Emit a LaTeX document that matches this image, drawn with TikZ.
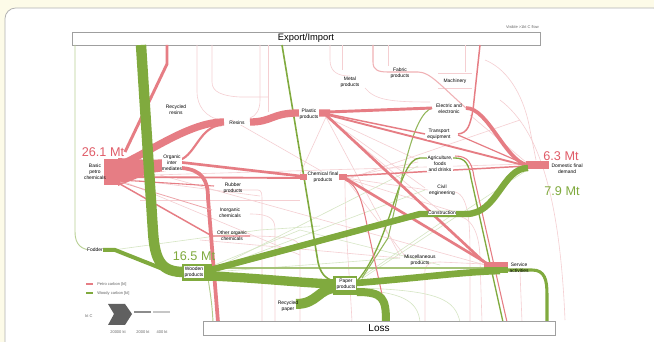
\documentclass[tikz,border=0pt]{standalone}
\usepackage{fontspec}
\setmainfont{Liberation Sans}
\definecolor{pk}{HTML}{E67D84}
\definecolor{gr}{HTML}{80AA3E}
\definecolor{fpk}{HTML}{F5CFD2}
\definecolor{fgr}{HTML}{D6E6C4}
\definecolor{bgy}{HTML}{FDFBE8}
\definecolor{pktxt}{HTML}{E05C68}
\definecolor{grtxt}{HTML}{80AA3E}
\begin{document}
\begin{tikzpicture}[x=0.75pt,y=-0.75pt,
 lbl/.style={font=\fontsize{3.7}{4.5}\selectfont, align=center, inner sep=0.3pt},
 lblw/.style={lbl, fill=white},
 pf/.style={draw=pk, line cap=butt},
 gf/.style={draw=gr, line cap=butt},
 fp/.style={draw=fpk, line width=0.45pt},
 fg/.style={draw=fgr, line width=0.45pt},
 bigbox/.style={draw=gray!75, fill=white, line width=0.7pt, inner sep=0pt},
 mt/.style={font=\fontsize{9.5}{10}\selectfont, inner sep=0pt},
 leg/.style={font=\fontsize{3}{3.5}\selectfont, text=gray!80!black, inner sep=0pt},
]
\useasboundingbox (0,0) rectangle (654,342);
\fill[bgy] (0,0) rectangle (654,342);
\draw[gray!60, fill=white, line width=0.6pt, rounded corners=8pt] (5,8) rectangle (664,372);

% ---------- boxes ----------
\fill[gray!40] (73,33) rectangle (541,46);
\node[bigbox, minimum width=351pt, minimum height=9.75pt, anchor=north west] (exp) at (72,32) {};
\node[font=\fontsize{7}{8}\selectfont, inner sep=0pt] (exptxt) at (306,38.5) {Export/Import};
\node[leg, anchor=east] (vis) at (539,27) {Visible >1kt C flow};

% ---------- ports ----------
\coordinate (eG) at (141,45);
\coordinate (eP) at (167,45);
\coordinate (eG2) at (282,45);
\coordinate (eP2) at (480,45);
\coordinate (eL) at (75,45);

% ---------- faint pink lines ----------
\draw[fp] (197,45) -- (197,92) .. controls (197,105) and (205,118) .. (222,120);
\draw[fp] (212,45) -- (212,82) .. controls (212,92) and (222,96) .. (240,97) -- (268,97);
\draw[fp] (260,45) -- (260,100) .. controls (260,110) and (256,116) .. (250,118);
\draw[fp] (268,45) -- (268,112);
\draw[fp] (330,45) -- (330,60) .. controls (330,72) and (338,76) .. (350,76);
\draw[fp] (342,45) -- (342,70);
\draw[fp] (388,45) -- (388,66);
\draw[fp] (465,45) -- (465,72);
\draw[fp] (438,73) -- (472,73);
\draw[fp] (438,88) -- (472,88);
\draw[fp] (485,60) .. controls (510,70) and (525,100) .. (530,130) -- (536,160);
\draw[fp] (500,100) .. controls (540,130) and (560,200) .. (565,320);
\draw[fp] (365,88) .. controls (375,100) and (390,102) .. (430,102);
\draw[fp] (326,117) -- (418,160);
\draw[fp] (326,117) -- (425,188);
\draw[fp] (326,117) -- (400,256);
\draw[fp] (326,117) -- (440,211);
\draw[fp] (326,117) -- (300,174);
\draw[fp] (345,178) -- (418,162);
\draw[fp] (345,178) -- (428,190);
\draw[fp] (345,178) -- (405,256);
\draw[fp] (345,178) -- (455,212);
\draw[fp] (345,180) .. controls (345,230) and (350,280) .. (352,322);
\draw[fp] (120,180) -- (300,255);
\draw[fp] (120,178) -- (260,196);
\draw[fp] (120,176) -- (527,164);
\draw[fp] (140,200) -- (300,200);
\draw[fp] (230,190) -- (258,190) .. controls (262,190) and (262,195) .. (262,200) -- (262,322);
\draw[fp] (250,214) .. controls (272,214) and (275,220) .. (275,230) -- (275,322);
\draw[fp] (245,236) .. controls (295,236) and (300,240) .. (300,250) -- (300,322);
\draw[fp] (440,262) .. controls (422,262) and (425,270) .. (425,280) -- (425,322);
\draw[fp] (455,192) .. controls (470,195) and (470,230) .. (470,260) -- (470,322);
\draw[fp] (455,216) .. controls (475,216) and (480,240) .. (480,260) -- (482,322);
\draw[fp] (520,272) -- (522,322);
\draw[fp] (440,262) -- (484,264);
\draw[fp] (232,120) -- (330,176);
\draw[fp] (160,175) -- (485,265);
\draw[fp] (200,240) -- (400,258);
\draw[fp] (345,180) -- (520,120);
\draw[fp] (470,115) -- (527,163);

% ---------- faint green lines ----------
\draw[fg] (113,250) -- (260,230) -- (320,226);
\draw[fg] (212,270) -- (425,190);
\draw[fg] (212,272) -- (400,258);
\draw[fg] (212,270) -- (418,166);
\draw[fg] (357,282) -- (527,170);
\draw[fg] (357,280) -- (455,213);
\draw[fg] (357,290) .. controls (400,292) and (418,300) .. (420,322);
\draw[fg] (357,288) .. controls (440,290) and (455,300) .. (460,322);
\draw[fg] (300,230) -- (440,265);
\draw[fg] (212,266) -- (300,230);

% ---------- thin green ----------
\draw[draw=gr!55, line width=0.7pt] (eL) -- (75,232) .. controls (75,245) and (82,250) .. (92,250);
\draw[gf, draw=gr!70, line width=0.8pt] (212,268) -- (496,268);
\draw[gf, draw=gr!60, line width=0.7pt] (208,278) .. controls (210,292) and (212,302) .. (213,322);
\draw[gf, line width=1.2pt] (eG2) -- (318,262) .. controls (320,272) and (325,279) .. (334,281);
\draw[gf, line width=1pt] (358,280) .. controls (392,240) and (398,158) .. (420,158) -- (455,158) .. controls (466,158) and (469,165) .. (471,178) -- (503,322);
\draw[gf, draw=gr!85, line width=0.8pt] (432,108) .. controls (412,115) and (402,180) .. (388,238) -- (362,278);

% ---------- pink flows ----------
\draw[pf, line width=2.2pt] (eP) -- (167,64) -- (125,152);
\fill[pk] (118,158) -- (150,160) -- (166,159) -- (166,171) -- (150,173) -- (118,186) -- cycle;
\draw[pf, line width=5.5pt] (118,166) .. controls (150,152) and (190,122) .. (224,122);
\draw[pf, line width=5.5pt] (250,122) .. controls (272,122) and (272,113) .. (298,113) -- (330,113);
\draw[pf, line width=1.6pt] (180,160) .. controls (196,154) and (200,126) .. (222,125);
\draw[pf, line width=2pt] (178,162) -- (300,176);
\draw[pf, line width=1.4pt] (120,177) -- (300,178);
\draw[pf, line width=2.8pt] (182,168) .. controls (202,170) and (208,180) .. (208,198) -- (218,322);
\draw[pf, line width=0.8pt] (120,180) -- (214,186);
\draw[pf, draw=pk!70, line width=0.6pt] (120,182) -- (212,210);
\draw[pf, line width=1.1pt] (120,184) -- (212,236) -- (250,236);
\draw[pf, line width=1.1pt] (345,176) -- (527,166);
\draw[pf, line width=2pt] (345,178) -- (488,264);
\draw[pf, line width=2.2pt] (328,112) -- (432,108);
\draw[pf, line width=2.8pt] (466,108) .. controls (488,108) and (505,160) .. (527,165);
\draw[pf, line width=1.1pt] (328,114) -- (425,134);
\draw[pf, line width=1.4pt] (328,115) -- (527,166);
\draw[pf, line width=2pt] (326,115) -- (484,262);
\draw[pf, line width=0.9pt] (458,135) -- (527,165);
\draw[pf, line width=1.1pt] (eP2) -- (473,110) .. controls (470,125) and (468,133) .. (458,134);
\draw[pf, draw=pk!60, line width=0.8pt] (373,45) -- (373,62) .. controls (373,70) and (378,72) .. (388,72) -- (418,72) .. controls (430,72) and (440,85) .. (466,108);
\draw[pf, line width=0.8pt] (455,156) .. controls (468,156) and (472,163) .. (474,177) -- (507,322);
\draw[pf, line width=0.8pt] (345,180) .. controls (358,185) and (362,200) .. (368,230) -- (388,322);

% ---------- blocks ----------
\fill[pk] (104,159) rectangle (120,185);
\fill[pk] (300,174) rectangle (347,180);
\fill[pk] (484,262) rectangle (508,268);
\fill[pk] (526,161) rectangle (549,169);

% ---------- thick green flows ----------
\draw[gf, line width=7.8pt] (eG) -- (153,232) .. controls (155,262) and (162,272) .. (184,272);
\draw[gf, line width=3pt] (103,250) -- (115,250) -- (178,275);
\draw[gf, line width=4.8pt] (210,270) -- (420,214) -- (466,214) .. controls (498,214) and (502,168) .. (528,168);
\draw[gf, line width=7pt] (210,276) .. controls (260,278) and (300,283) .. (336,284);
\draw[gf, line width=7.5pt] (296,304) .. controls (318,304) and (318,288) .. (337,288);
\draw[gf, line width=5pt] (356,283) .. controls (420,278) and (460,272) .. (500,271);
\draw[gf, line width=6pt] (357,292) .. controls (383,292) and (386,298) .. (386,322);
\draw[gf, line width=2.3pt] (506,270) -- (532,270) .. controls (545,270) and (547,280) .. (547,295) -- (547,322);
\fill[gr] (182,264) rectangle (212,281);
\fill[gr] (333,276) rectangle (357,295);
\fill[gr] (484,267) rectangle (508,273);

% ---------- loss box ----------
\fill[gray!40] (204,322) rectangle (556,336);
\node[bigbox, minimum width=264pt, minimum height=10.5pt, anchor=north west] (loss) at (203,321) {};
\node[font=\fontsize{7.5}{8}\selectfont, inner sep=0pt] (losstxt) at (379,328) {Loss};

% ---------- labels ----------
\node[lbl] (basic) at (95,172) {Basic\\petro\\chemicals};
\node[lbl] (recres) at (176,110) {Recycled\\resins};
\node[lblw] (resins) at (237,123) {Resins};
\node[lblw] (plastic) at (309,114) {Plastic\\products};
\node[lblw] (organic) at (172,163) {Organic\\inter\\mediates};
\node[lblw] (chem) at (323,177) {Chemical final\\products};
\node[lbl] (rubber) at (233,188) {Rubber\\products};
\node[lbl] (inorg) at (230,213) {Inorganic\\chemicals};
\node[lbl] (othorg) at (232,236) {Other organic\\chemicals};
\node[lbl, fill=white] (fodder) at (95,250) {Fodder};
\node[lblw] (wooden) at (194,272) {Wooden\\products};
\node[lbl] (metal) at (350,82) {Metal\\products};
\node[lbl] (fabric) at (400,73) {Fabric\\products};
\node[lbl] (mach) at (455,81) {Machinery};
\node[lblw] (elec) at (449,109) {Electric and\\electronic};
\node[lblw] (trans) at (439,134) {Transport\\equipment};
\node[lblw] (agri) at (440,164) {Agriculture,\\foods\\and drinks};
\node[lbl] (civil) at (442,190) {Civil\\engineering};
\node[lblw] (constr) at (442,213) {Construction};
\node[lbl] (misc) at (420,260) {Miscellaneous\\products};
\node[lblw] (paper) at (346,284) {Paper\\products};
\node[lbl] (recpap) at (288,306) {Recycled\\paper};
\node[lbl, anchor=west] (serv) at (509,268) {Service\\activities};
\node[lbl, anchor=west] (dom) at (551,169) {Domestic final\\demand};

\node[mt, text=pktxt] (m261) at (103,152) {26.1 Mt};
\node[mt, text=pktxt] (m63) at (561,156) {6.3 Mt};
\node[mt, text=grtxt] (m79) at (562,191) {7.9 Mt};
\node[mt, text=grtxt] (m165) at (194,256) {16.5 Mt};

% ---------- legend ----------
\coordinate (lp1) at (86,284); \coordinate (lp2) at (93,284);
\coordinate (lg1) at (86,293); \coordinate (lg2) at (93,293);
\draw[pk, line width=1.5pt] (lp1) -- (lp2);
\draw[gr, line width=1.5pt] (lg1) -- (lg2);
\node[leg, anchor=west] (lpt) at (97,284) {Petro carbon [kt]};
\node[leg, anchor=west] (lgt) at (97,293) {Woody carbon [kt]};
\fill[gray!75!black] (108,304) -- (125,304) -- (132,314) -- (125,325) -- (108,325) -- (114,314) -- cycle;
\coordinate (la1) at (134,312); \coordinate (la2) at (151,312);
\coordinate (la3) at (153,312); \coordinate (la4) at (170,312);
\draw[gray!90, line width=1.5pt] (la1) -- (la2);
\draw[gray!45, line width=0.8pt] (la3) -- (la4);
\node[leg] (ktc) at (89,316) {kt C};
\node[leg] (n1) at (118,332) {20000 kt};
\node[leg] (n2) at (143,332) {2000 kt};
\node[leg] (n3) at (162,332) {400 kt};
\end{tikzpicture}
\end{document}
